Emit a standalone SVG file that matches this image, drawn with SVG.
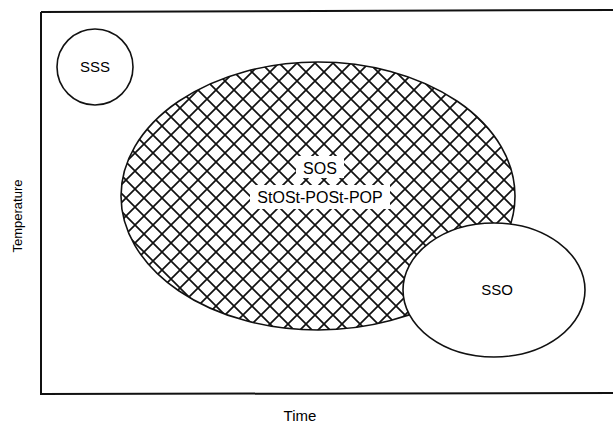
<svg xmlns="http://www.w3.org/2000/svg" width="613" height="428" viewBox="0 0 613 428">
<style>
.t{font-family:"Liberation Sans",Arial,sans-serif;fill:#000;text-anchor:middle}
.o{fill:#fff;stroke:#111;stroke-width:1.6}
</style>
<defs>
<pattern id="hatch" patternUnits="userSpaceOnUse" width="18" height="18">
<rect width="18" height="18" fill="#fff"/>
<path d="M-1,-1L19,19M19,-1L-1,19" stroke="#111" stroke-width="1.7"/>
</pattern>
</defs>
<rect width="613" height="428" fill="#fff"/>
<path d="M41,12 L613,10 M41,12 L41,394 L613,393" fill="none" stroke="#111" stroke-width="2"/>
<g id="sos">
<ellipse cx="318" cy="196" rx="197" ry="134" fill="url(#hatch)" stroke="#111" stroke-width="1.6"/>
<rect x="296" y="156" width="48" height="22" fill="#fff"/>
<rect x="250" y="185" width="140" height="24" fill="#fff"/>
<text class="t" x="320" y="174" font-size="16">SOS</text>
<text class="t" x="320" y="203" font-size="16">StOSt-POSt-POP</text>
</g>
<g id="sss">
<circle class="o" cx="95" cy="67" r="38"/>
<text class="t" x="95" y="72" font-size="15">SSS</text>
</g>
<g id="sso">
<ellipse class="o" cx="494" cy="290" rx="91" ry="67"/>
<text class="t" x="497" y="295" font-size="15">SSO</text>
</g>
<text class="t" x="300" y="421" font-size="15">Time</text>
<text class="t" transform="translate(22,216) rotate(-90)" font-size="13">Temperature</text>
<g id="connectors"></g>
</svg>
